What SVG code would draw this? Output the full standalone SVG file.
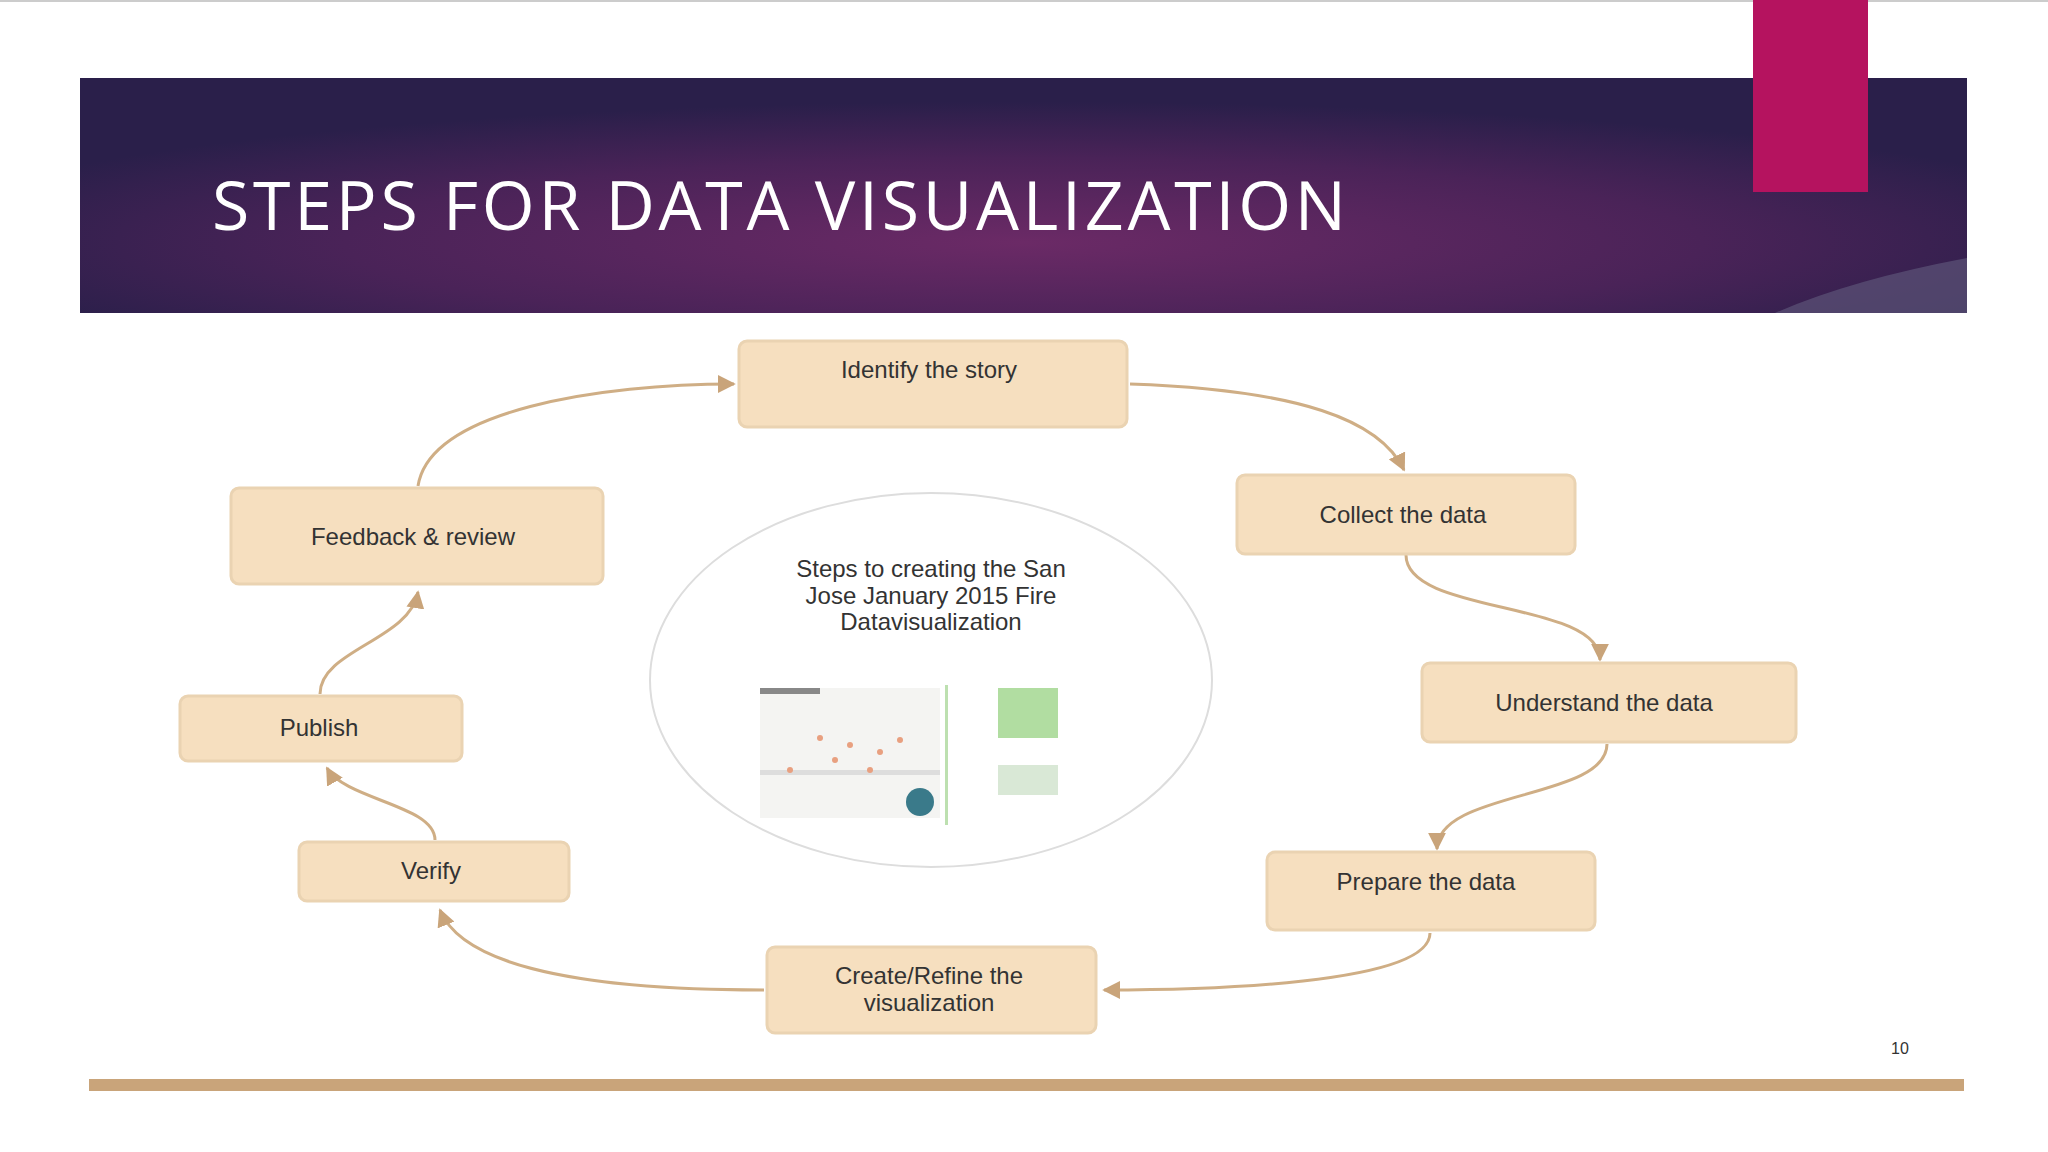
<svg xmlns="http://www.w3.org/2000/svg" width="2048" height="1152" viewBox="0 0 2048 1152">
<defs>
<radialGradient id="hg" cx="0.5" cy="0.7" r="0.6" gradientTransform="translate(0,0)">
<stop offset="0" stop-color="#6b2a66"/><stop offset="0.6" stop-color="#4a2358"/><stop offset="1" stop-color="#2a1f4a"/>
</radialGradient>
<marker id="ah" viewBox="0 0 10 10" refX="9" refY="5" markerWidth="6" markerHeight="6" orient="auto">
<path d="M0,0 L10,5 L0,10 z" fill="#c9a47a"/>
</marker>
<style>
.n{fill:#f6dfbf;stroke:#ead3b2;stroke-width:3}
.t{font-family:"Liberation Sans",Arial,sans-serif;font-size:24px;fill:#333;text-anchor:middle}
.c{fill:none;stroke:#cfae85;stroke-width:3;marker-end:url(#ah)}
</style>
</defs>
<rect width="2048" height="1152" fill="#fff"/>
<rect x="0" y="0" width="2048" height="2" fill="#ccc"/>
<rect x="80" y="78" width="1887" height="235" fill="url(#hg)"/>
<path d="M1775,313 Q1850,280 1967,258 L1967,313 Z" fill="#5c5478" opacity="0.7"/>
<rect x="1753" y="0" width="115" height="192" fill="#b5135f"/>
<text x="212" y="230" font-family="'Open Sans',sans-serif" font-size="68" fill="#fff" textLength="1134">STEPS FOR DATA VISUALIZATION</text>
<rect x="89" y="1079" width="1875" height="12" fill="#c9a47a"/>
<text x="1900" y="1054" font-family="'Liberation Sans',sans-serif" font-size="16" fill="#333" text-anchor="middle">10</text>
<g id="center">
<ellipse cx="931" cy="680" rx="281" ry="187" fill="#fff" stroke="#ddd" stroke-width="2"/>
<text class="t" x="931" y="577">Steps to creating the San</text>
<text class="t" x="931" y="604">Jose January 2015 Fire</text>
<text class="t" x="931" y="630">Datavisualization</text>
<rect x="760" y="688" width="180" height="130" fill="#f4f4f2"/>
<rect x="760" y="688" width="60" height="6" fill="#888"/>
<rect x="760" y="770" width="180" height="5" fill="#ddd"/>
<rect x="945" y="685" width="3" height="140" fill="#bde0b0"/>
<rect x="998" y="688" width="60" height="50" fill="#9ed58a" opacity="0.8"/>
<rect x="998" y="765" width="60" height="30" fill="#d9e8d6"/>
<circle cx="920" cy="802" r="14" fill="#3a7a8a"/>
<g fill="#e8a080"><circle cx="820" cy="738" r="3"/><circle cx="850" cy="745" r="3"/><circle cx="880" cy="752" r="3"/><circle cx="900" cy="740" r="3"/><circle cx="835" cy="760" r="3"/><circle cx="870" cy="770" r="3"/><circle cx="790" cy="770" r="3"/></g>
</g>
<g id="connectors">
<path class="c" d="M1130,384 C1300,390 1380,420 1404,470"/>
<path class="c" d="M1406,555 C1406,615 1600,600 1600,660"/>
<path class="c" d="M1607,744 C1607,800 1437,790 1437,849"/>
<path class="c" d="M1430,933 C1430,985 1200,990 1104,990"/>
<path class="c" d="M764,990 C560,990 460,960 440,910"/>
<path class="c" d="M435,840 C435,805 345,800 327,768"/>
<path class="c" d="M320,694 C320,650 410,640 418,592"/>
<path class="c" d="M418,486 C430,410 600,384 734,384"/>
</g>
<g id="n1"><rect class="n" x="739" y="341" width="388" height="86" rx="8"/><text class="t" x="929" y="378">Identify the story</text></g>
<g id="n2"><rect class="n" x="1237" y="475" width="338" height="79" rx="8"/><text class="t" x="1403" y="523">Collect the data</text></g>
<g id="n3"><rect class="n" x="1422" y="663" width="374" height="79" rx="8"/><text class="t" x="1604" y="711">Understand the data</text></g>
<g id="n4"><rect class="n" x="1267" y="852" width="328" height="78" rx="8"/><text class="t" x="1426" y="890">Prepare the data</text></g>
<g id="n5"><rect class="n" x="767" y="947" width="329" height="86" rx="8"/><text class="t" x="929" y="984">Create/Refine the</text><text class="t" x="929" y="1011">visualization</text></g>
<g id="n6"><rect class="n" x="299" y="842" width="270" height="59" rx="8"/><text class="t" x="431" y="879">Verify</text></g>
<g id="n7"><rect class="n" x="180" y="696" width="282" height="65" rx="8"/><text class="t" x="319" y="736">Publish</text></g>
<g id="n8"><rect class="n" x="231" y="488" width="372" height="96" rx="8"/><text class="t" x="413" y="545">Feedback &amp; review</text></g>
</svg>
